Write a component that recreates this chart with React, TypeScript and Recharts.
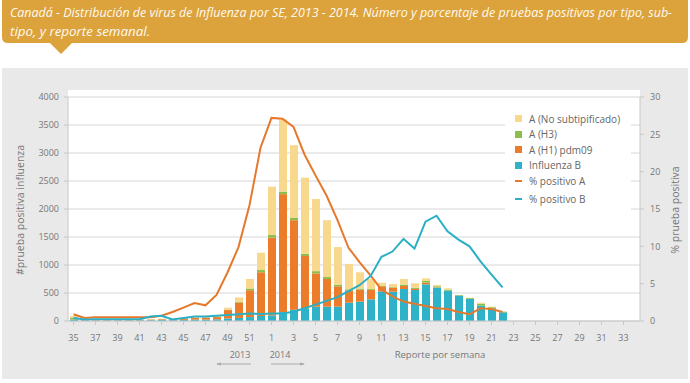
import React from 'react';
import { ComposedChart, Bar, Line, XAxis, YAxis, CartesianGrid, Legend } from 'recharts';

// semanas epidemiologicas 35-52 (2013) y 1-34 (2014)
const weeks = [
  '35', '36', '37', '38', '39', '40', '41', '42', '43', '44', '45', '46', '47', '48', '49', '50', '51', '52',
  '1', '2', '3', '4', '5', '6', '7', '8', '9', '10', '11', '12', '13', '14', '15', '16', '17', '18', '19', '20',
  '21', '22', '23', '24', '25', '26', '27', '28', '29', '30', '31', '32', '33', '34',
];

const noData = [null, null, null, null, null, null, null, null, null, null, null, null];

const fluB = [
  25, 15, 10, 10, 12, 12, 12, 15, 20, 15, 20, 25, 25, 30, 45, 55, 70, 90,
  100, 160, 200, 225, 255, 256, 256, 327, 345, 387, 530, 523, 571, 553, 655, 595, 541, 452, 393, 274, 226, 155,
  ...noData,
];
const h1pdm = [
  5, 5, 8, 8, 8, 10, 10, 10, 12, 15, 25, 30, 35, 40, 150, 275, 480, 780,
  1390, 2105, 1600, 935, 595, 494, 364, 213, 215, 168, 90, 72, 54, 20, 30, 5, 0, 0, 0, 0, 0, 0,
  ...noData,
];
const h3 = [
  30, 0, 0, 2, 2, 2, 2, 2, 2, 3, 3, 4, 5, 5, 8, 12, 30, 40,
  45, 45, 40, 40, 40, 35, 30, 25, 20, 15, 12, 10, 25, 20, 30, 20, 20, 12, 15, 35, 20, 12,
  ...noData,
];
const noSubtype = [
  30, 5, 5, 5, 5, 5, 5, 5, 8, 8, 10, 12, 15, 15, 35, 80, 170, 310,
  865, 1290, 1300, 1360, 1290, 1015, 670, 455, 290, 180, 50, 55, 100, 80, 47, 23, 22, 0, 8, 18, 10, 0,
  ...noData,
];
const pctA = [
  0.9, 0.4, 0.5, 0.5, 0.5, 0.5, 0.5, 0.5, 0.7, 1.2, 1.8, 2.4, 2.1, 3.5, 6.5, 9.9, 15.5, 23.2,
  27.2, 27.1, 26.0, 22.3, 19.5, 16.8, 13.5, 9.8, 7.9, 6.1, 4.2, 3.3, 2.6, 2.3, 2.0, 1.7, 1.6, 1.2, 0.9, 1.7, 1.6, 1.2,
  ...noData,
];
const pctB = [
  0.4, 0.2, 0.25, 0.25, 0.25, 0.25, 0.25, 0.6, 0.7, 0.2, 0.4, 0.6, 0.6, 0.7, 0.8, 0.9, 1.0, 0.95,
  1.0, 1.0, 1.25, 1.7, 2.2, 2.7, 3.2, 4.0, 4.8, 6.0, 8.6, 9.3, 11.0, 9.7, 13.3, 14.1, 12.0, 10.9, 10.0, 8.0, 6.2, 4.5,
  ...noData,
];

const leftTicks = [0, 500, 1000, 1500, 2000, 2500, 3000, 3500, 4000];
const rightTicks = [0, 5, 10, 15, 20, 25, 30];

const C = {
  ns: '#f8d88d',
  h3: '#8dbd4c',
  h1: '#ec7b2a',
  b: '#2eb2c7',
  lineA: '#e6782c',
  lineB: '#2aafc4',
};

const legendItems = [
  { name: 'A (No subtipificado)', color: C.ns, type: 'rect' },
  { name: 'A (H3)', color: C.h3, type: 'rect' },
  { name: 'A (H1) pdm09', color: C.h1, type: 'rect' },
  { name: 'Influenza B', color: C.b, type: 'rect' },
  { name: '% positivo A', color: C.lineA, type: 'line' },
  { name: '% positivo B', color: C.lineB, type: 'line' },
];

const data = weeks.map((w, i) => ({
  week: w,
  b: fluB[i],
  h1: h1pdm[i],
  h3: h3[i],
  ns: noSubtype[i],
  pa: pctA[i],
  pb: pctB[i],
}));

const font = '"Open Sans", sans-serif';
const tickStyle = { fontSize: 9, fill: '#777', fontFamily: font };

const LegendBox = () => (
  <div style={{ background: '#fff', padding: '8px 0 6px 10px', fontFamily: font, fontSize: 10, color: '#666', textAlign: 'left' }}>
    {legendItems.map((it, i) => (
      <div key={it.name} style={{ display: 'flex', alignItems: 'center', height: 15.5, marginTop: i === 5 ? 3 : 0 }}>
        {it.type === 'rect' ? (
          <span style={{ width: 7, height: 7, background: it.color, display: 'inline-block', marginRight: 7 }} />
        ) : (
          <span style={{ width: 7, height: 2, background: it.color, display: 'inline-block', marginRight: 7 }} />
        )}
        <span>{it.name}</span>
      </div>
    ))}
  </div>
);

const App: React.FC = () => {
  return (
    <div style={{ position: 'absolute', left: 0, top: 0, width: 690, height: 383, background: '#fff', overflow: 'hidden' }}>
      <svg width={690} height={60} style={{ position: 'absolute', left: 0, top: 0 }}>
        <path d="M2,0 H688 V37 Q688,43 682,43 H72 L61,54 L50,43 H8 Q2,43 2,37 Z" fill="#dca23b" />
        <text x={10} y={17} fill="#fffaf0" fontSize={12.5} fontStyle="italic" fontFamily={font}
          textLength={662} lengthAdjust="spacingAndGlyphs">
          Canadá - Distribución de virus de Influenza por SE, 2013 - 2014. Número y porcentaje de pruebas positivas por tipo, sub-
        </text>
        <text x={10} y={36} fill="#fffaf0" fontSize={12.5} fontStyle="italic" fontFamily={font}
          textLength={140} lengthAdjust="spacingAndGlyphs">
          tipo, y reporte semanal.
        </text>
      </svg>
      <div style={{ position: 'absolute', left: 2, top: 68, width: 686, height: 311, background: '#e9e9e9' }} />
      <div style={{ position: 'absolute', left: 68, top: 90, width: 572, height: 231, background: '#fff' }} />
      <div style={{ position: 'absolute', left: 0, top: 0 }}>
        <ComposedChart width={690} height={383} data={data} margin={{ top: 97, right: 10, bottom: 30, left: 18 }}>
          <CartesianGrid yAxisId="left" vertical={false} stroke="#d6d6d6" />
          <XAxis dataKey="week" interval={1} tick={tickStyle} tickSize={4} tickMargin={10} height={32}
            axisLine={{ stroke: '#c8c8c8' }} tickLine={{ stroke: '#c8c8c8' }} />
          <YAxis yAxisId="left" domain={[0, 4000]} ticks={leftTicks} width={50} tick={tickStyle} tickSize={4}
            tickMargin={5} axisLine={{ stroke: '#c8c8c8' }} tickLine={{ stroke: '#c8c8c8' }} />
          <YAxis yAxisId="right" orientation="right" domain={[0, 30]} ticks={rightTicks} width={40} tick={tickStyle}
            tickSize={4} tickMargin={6} axisLine={{ stroke: '#c8c8c8' }} tickLine={{ stroke: '#c8c8c8' }} />
          <Legend content={<LegendBox />} layout="vertical" align="center" verticalAlign="middle"
            wrapperStyle={{ left: 505, top: 103, width: 126 }} />
          <Bar yAxisId="left" dataKey="b" stackId="s" fill={C.b} barSize={8} isAnimationActive={false} />
          <Bar yAxisId="left" dataKey="h1" stackId="s" fill={C.h1} barSize={8} isAnimationActive={false} />
          <Bar yAxisId="left" dataKey="h3" stackId="s" fill={C.h3} barSize={8} isAnimationActive={false} />
          <Bar yAxisId="left" dataKey="ns" stackId="s" fill={C.ns} barSize={8} isAnimationActive={false} />
          <Line yAxisId="right" dataKey="pa" stroke={C.lineA} strokeWidth={2} dot={false} type="linear" isAnimationActive={false} />
          <Line yAxisId="right" dataKey="pb" stroke={C.lineB} strokeWidth={2} dot={false} type="linear" isAnimationActive={false} />
        </ComposedChart>
      </div>
      <svg width={690} height={383} style={{ position: 'absolute', left: 0, top: 0, pointerEvents: 'none' }}>
        <text transform="translate(24,210) rotate(-90)" textAnchor="middle" fontSize={10.5} fill="#777" fontFamily={font}>
          #prueba positiva influenza
        </text>
        <text transform="translate(679,210) rotate(-90)" textAnchor="middle" fontSize={10.5} fill="#777" fontFamily={font}>
          % prueba positiva
        </text>
        <text x={240} y={358} textAnchor="middle" fontSize={9} fill="#777" fontFamily={font}>2013</text>
        <text x={280} y={358} textAnchor="middle" fontSize={9} fill="#777" fontFamily={font}>2014</text>
        <text x={440} y={358} textAnchor="middle" fontSize={9.5} fill="#777" fontFamily={font}>Reporte por semana</text>
        <line x1={217} y1={364} x2={251} y2={364} stroke="#aaa" strokeWidth={1} />
        <path d="M216,364 L221,362.5 L221,365.5 Z" fill="#aaa" />
        <line x1={271} y1={364} x2={304} y2={364} stroke="#aaa" strokeWidth={1} />
        <path d="M305,364 L300,362.5 L300,365.5 Z" fill="#aaa" />
      </svg>
    </div>
  );
};

export default App;
